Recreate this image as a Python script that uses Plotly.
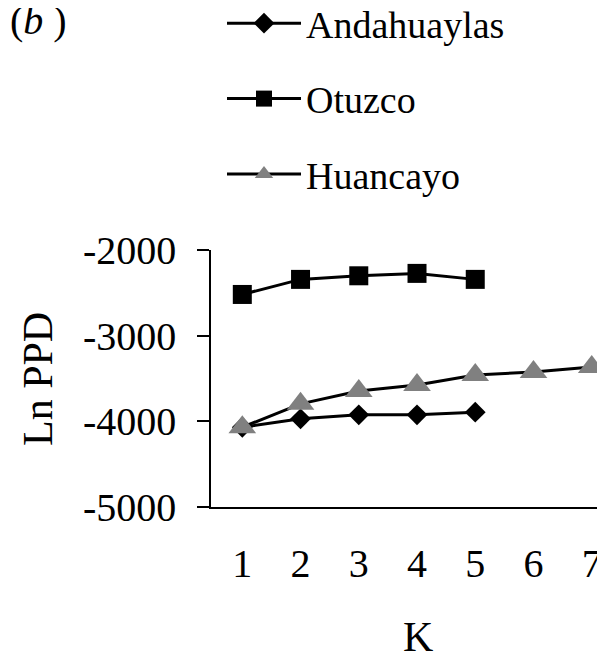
import plotly.graph_objects as go

K = [1, 2, 3, 4, 5, 6, 7]
andahuaylas = [-4069, -3971, -3924, -3924, -3893]
otuzco = [-2519, -2343, -2301, -2273, -2343]
huancayo = [-4069, -3796, -3645, -3577, -3460, -3424, -3366]
y_ticks = [-5000, -4000, -3000, -2000]
y_tick_text = ["-5000", "-4000", "-3000", "-2000"]

FONT = "Liberation Serif, Times New Roman, serif"

# page body has an 8px default margin, so the figure is sized to fit the window
W, H = 597, 649
L, R, T, B = 203, 0, 242, 150
PW, PH = W - L - R, H - T - B

fig = go.Figure()
fig.add_trace(go.Scatter(
    x=K[:len(andahuaylas)], y=andahuaylas, name="Andahuaylas", mode="lines+markers",
    line=dict(color="black", width=3), legendgroup="a",
    marker=dict(symbol="diamond", size=16, color="black"), cliponaxis=False))
fig.add_trace(go.Scatter(
    x=K[:len(otuzco)], y=otuzco, name="Otuzco", mode="lines+markers",
    line=dict(color="black", width=3), legendgroup="o",
    marker=dict(symbol="square", size=19, color="black"), cliponaxis=False))
fig.add_trace(go.Scatter(
    x=K[:len(huancayo)], y=huancayo, name="Huancayo", mode="lines+markers",
    line=dict(color="black", width=3), legendgroup="h",
    marker=dict(symbol="triangle-up", size=24, color="#808080"), cliponaxis=False))

fig.update_layout(
    width=W, height=H,
    margin=dict(l=L, r=R, t=T, b=B, autoexpand=False),
    paper_bgcolor="white", plot_bgcolor="white",
    font=dict(family=FONT, size=40, color="black"),
    showlegend=True,
    legend=dict(
        xref="paper", yref="paper",
        x=(214 - L) / PW, y=(H - B + 16) / PH, xanchor="left", yanchor="top",
        font=dict(family=FONT, size=38, color="black"),
        itemwidth=74, tracegroupgap=23, bgcolor="rgba(0,0,0,0)",
        traceorder="grouped",
    ),
    xaxis=dict(
        range=[0.4625, 7.228], tickmode="array", tickvals=K, ticktext=[str(k) for k in K],
        showline=True, linecolor="black", linewidth=1.5, ticks="", showgrid=False,
        zeroline=False, ticklabelstandoff=20, automargin=False,
        tickfont=dict(family=FONT, size=40, color="black"),
    ),
    yaxis=dict(
        range=[-5000, -2000], tickmode="array", tickvals=y_ticks, ticktext=y_tick_text,
        showline=True, linecolor="black", linewidth=1.5, ticks="outside", ticklen=12,
        tickcolor="black", tickwidth=1.5, showgrid=False, zeroline=False,
        ticklabelstandoff=13, automargin=False,
        tickfont=dict(family=FONT, size=40, color="black"),
    ),
    annotations=[
        dict(text="(<i>b</i> )", xref="paper", yref="paper", x=-L / PW, y=(H - B - 12) / PH,
             xanchor="left", yanchor="middle", showarrow=False,
             font=dict(family=FONT, size=40, color="black")),
        dict(text="Ln PPD", xref="paper", yref="paper", x=(30 - L) / PW, y=(H - B - 371) / PH,
             xanchor="center", yanchor="middle", textangle=-90, showarrow=False,
             font=dict(family=FONT, size=42, color="black")),
        dict(text="K", xref="paper", yref="paper", x=(410 - L) / PW, y=(H - B - 629) / PH,
             xanchor="center", yanchor="middle", showarrow=False,
             font=dict(family=FONT, size=42, color="black")),
    ],
)

fig.write_html("out.html")
